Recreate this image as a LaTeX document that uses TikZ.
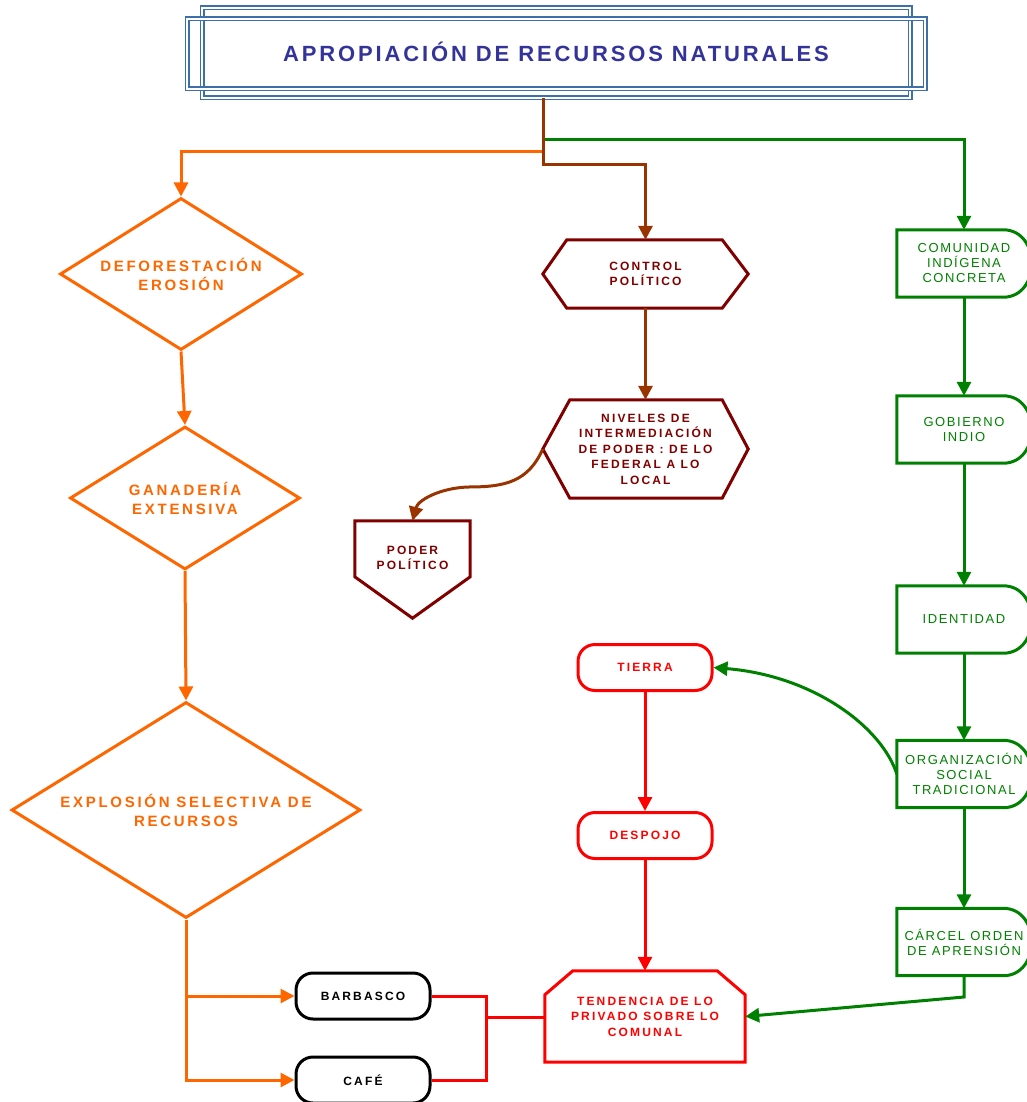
\documentclass[tikz,border=0pt]{standalone}
\usepackage{fontspec}
\setmainfont{Liberation Sans}
\newfontfamily\espaciada[LetterSpace=18]{Liberation Sans}
\newfontfamily\espaciadaverde[LetterSpace=12]{Liberation Sans}
\newfontfamily\espaciadatitulo[LetterSpace=13]{Liberation Sans}
\usetikzlibrary{arrows.meta,shapes.geometric}

\definecolor{azultitulo}{HTML}{333399}
\definecolor{azulmarco}{HTML}{3F6FA8}
\definecolor{naranja}{HTML}{FF6600}
\definecolor{cafe}{HTML}{993300}
\definecolor{vino}{HTML}{800000}
\definecolor{verde}{HTML}{008000}
\definecolor{rojo}{HTML}{FF0000}

\tikzset{
  punta/.style={-{Triangle[length=14pt,width=14pt]}},
  lnaranja/.style={draw=naranja, line width=3pt},
  lcafe/.style={draw=cafe, line width=3pt},
  lvino/.style={draw=vino, line width=3pt, line join=miter},
  lverde/.style={draw=verde, line width=3pt},
  lrojo/.style={draw=rojo, line width=3pt},
  marco/.style={draw=azulmarco, line width=1.5pt, double, double distance=2pt},
  rombo/.style={diamond, aspect=1.6, draw=naranja, line width=3pt, inner sep=0pt, align=center, text=naranja, font=\espaciada\bfseries\fontsize{15}{19}\selectfont},
  caja/.style={rectangle, inner sep=0pt, align=center},
  textovino/.style={caja, text=vino, font=\espaciada\bfseries\fontsize{12}{15.5}\selectfont, minimum width=205pt},
  textoverde/.style={caja, text=verde, font=\espaciadaverde\fontsize{13}{15}\selectfont, minimum width=134pt, minimum height=67pt},
  ovalo/.style={rectangle, rounded corners=17pt, line width=3pt, minimum width=134pt, minimum height=46pt, inner sep=0pt, font=\espaciada\bfseries\fontsize{12}{15}\selectfont},
}

\begin{document}
\begin{tikzpicture}[x=1pt,y=-1pt]
\useasboundingbox (0,0) rectangle (1027,1102);

\draw[marco] (202,8) rectangle (910,98);
\draw[marco] (187,19) rectangle (925,89);
\node[caja, text=azultitulo, font=\espaciadatitulo\bfseries\fontsize{22}{26}\selectfont] (titulo) at (556,52) {APROPIACIÓN DE RECURSOS NATURALES};

\node[rombo, minimum width=242pt, minimum height=152pt] (defor) at (181,274) {DEFORESTACIÓN\\EROSIÓN};
\node[rombo, minimum width=230pt, minimum height=143pt] (ganad) at (185,498) {GANADERÍA\\EXTENSIVA};
\node[rombo, minimum width=349pt, minimum height=216pt] (explo) at (186,810) {EXPLOSIÓN SELECTIVA DE\\RECURSOS};

\node[textovino, minimum height=68pt] (control) at (645.5,274) {CONTROL\\POLÍTICO};
\node[textovino, minimum height=98pt] (niveles) at (645.5,449) {NIVELES DE\\INTERMEDIACIÓN\\DE PODER : DE LO\\FEDERAL A LO\\LOCAL};
\node[textovino, minimum width=115pt, minimum height=74pt] (poder) at (412.5,558) {PODER\\POLÍTICO};

\draw[lvino] (control.west) -- ([shift={(24,0)}]control.north west) -- ([shift={(-26,0)}]control.north east) -- (control.east) -- ([shift={(-26,0)}]control.south east) -- ([shift={(24,0)}]control.south west) -- cycle;
\draw[lvino] (niveles.west) -- ([shift={(27,0)}]niveles.north west) -- ([shift={(-26,0)}]niveles.north east) -- (niveles.east) -- ([shift={(-26,0)}]niveles.south east) -- ([shift={(27,0)}]niveles.south west) -- cycle;
\draw[lvino] (poder.north west) -- (poder.north east) -- ([shift={(0,56)}]poder.north east) -- ([shift={(0,23)}]poder.south) -- ([shift={(0,56)}]poder.north west) -- cycle;

\node[textoverde] (comun) at (964,263.5) {COMUNIDAD\\INDÍGENA\\CONCRETA};
\node[textoverde] (gobier) at (964,429.5) {GOBIERNO\\INDIO};
\node[textoverde] (ident) at (964,619.5) {IDENTIDAD};
\node[textoverde] (organ) at (964,774) {ORGANIZACIÓN\\SOCIAL\\TRADICIONAL};
\node[textoverde] (carcel) at (964,942) {CÁRCEL ORDEN\\DE APRENSIÓN};

\draw[lverde] (comun.north west) -- ([shift={(-28,0)}]comun.north east) .. controls ([shift={(10,0)}]comun.north east) and ([shift={(10,0)}]comun.south east) .. ([shift={(-28,0)}]comun.south east) -- (comun.south west) -- cycle;
\draw[lverde] (gobier.north west) -- ([shift={(-28,0)}]gobier.north east) .. controls ([shift={(10,0)}]gobier.north east) and ([shift={(10,0)}]gobier.south east) .. ([shift={(-28,0)}]gobier.south east) -- (gobier.south west) -- cycle;
\draw[lverde] (ident.north west) -- ([shift={(-28,0)}]ident.north east) .. controls ([shift={(10,0)}]ident.north east) and ([shift={(10,0)}]ident.south east) .. ([shift={(-28,0)}]ident.south east) -- (ident.south west) -- cycle;
\draw[lverde] (organ.north west) -- ([shift={(-28,0)}]organ.north east) .. controls ([shift={(10,0)}]organ.north east) and ([shift={(10,0)}]organ.south east) .. ([shift={(-28,0)}]organ.south east) -- (organ.south west) -- cycle;
\draw[lverde] (carcel.north west) -- ([shift={(-28,0)}]carcel.north east) .. controls ([shift={(10,0)}]carcel.north east) and ([shift={(10,0)}]carcel.south east) .. ([shift={(-28,0)}]carcel.south east) -- (carcel.south west) -- cycle;

\node[ovalo, draw=rojo, text=rojo] (tierra) at (645,667.5) {TIERRA};
\node[ovalo, draw=rojo, text=rojo] (despojo) at (645,835.5) {DESPOJO};
\node[ovalo, draw=black] (barbasco) at (363,996) {BARBASCO};
\node[ovalo, draw=black] (cafe) at (363,1080) {CAFÉ};

\node[caja, text=rojo, font=\espaciada\bfseries\fontsize{12}{15.5}\selectfont, minimum width=200pt, minimum height=91pt] (tend) at (645,1016.5) {TENDENCIA DE LO\\PRIVADO SOBRE LO\\COMUNAL};
\draw[lrojo, line join=miter] (tend.south west) -- ([shift={(0,24)}]tend.north west) -- ([shift={(28,0)}]tend.north west) -- ([shift={(-28,0)}]tend.north east) -- ([shift={(0,24)}]tend.north east) -- (tend.south east) -- cycle;

\coordinate (tronco) at (543,98);
\coordinate (ramaverde) at (543,140);
\coordinate (ramanaranja) at (543,152);
\coordinate (codocafe) at (543,165);
\coordinate (union) at (486,1017);
\coordinate (codoverde) at (964,997);

\draw[lnaranja, punta] (ramanaranja) -| (defor.north);
\draw[lverde, punta] (ramaverde) -| (comun.north);
\draw[lcafe, punta] (tronco) -- (codocafe) -| (control.north);

\draw[lnaranja, punta] (defor.south) -- (ganad.north);
\draw[lnaranja, punta] (ganad.south) -- (explo.north);
\draw[lnaranja, punta] (explo.south) |- (barbasco.west);
\draw[lnaranja, punta] (explo.south) |- (cafe.west);

\draw[lcafe, punta] (control.south) -- (niveles.north);
\draw[lcafe, punta] (niveles.west) .. controls (528,482) and (505,487) .. (468,487) .. controls (440,488) and (418,500) .. (poder.north);

\draw[lverde, punta] (comun.south) -- (gobier.north);
\draw[lverde, punta] (gobier.south) -- (ident.north);
\draw[lverde, punta] (ident.south) -- (organ.north);
\draw[lverde, punta] (organ.south) -- (carcel.north);
\draw[lverde, punta] (organ.west) .. controls (882,728) and (815,676) .. (tierra.east);
\draw[lverde, punta] (carcel.south) -- (codoverde) -- (tend.east);

\draw[lrojo, punta] (tierra.south) -- (despojo.north);
\draw[lrojo, punta] (despojo.south) -- (tend.north);
\draw[lrojo] (barbasco.east) -| (union);
\draw[lrojo] (cafe.east) -| (union);
\draw[lrojo] (union) -- (union -| tend.west);
\end{tikzpicture}
\end{document}
